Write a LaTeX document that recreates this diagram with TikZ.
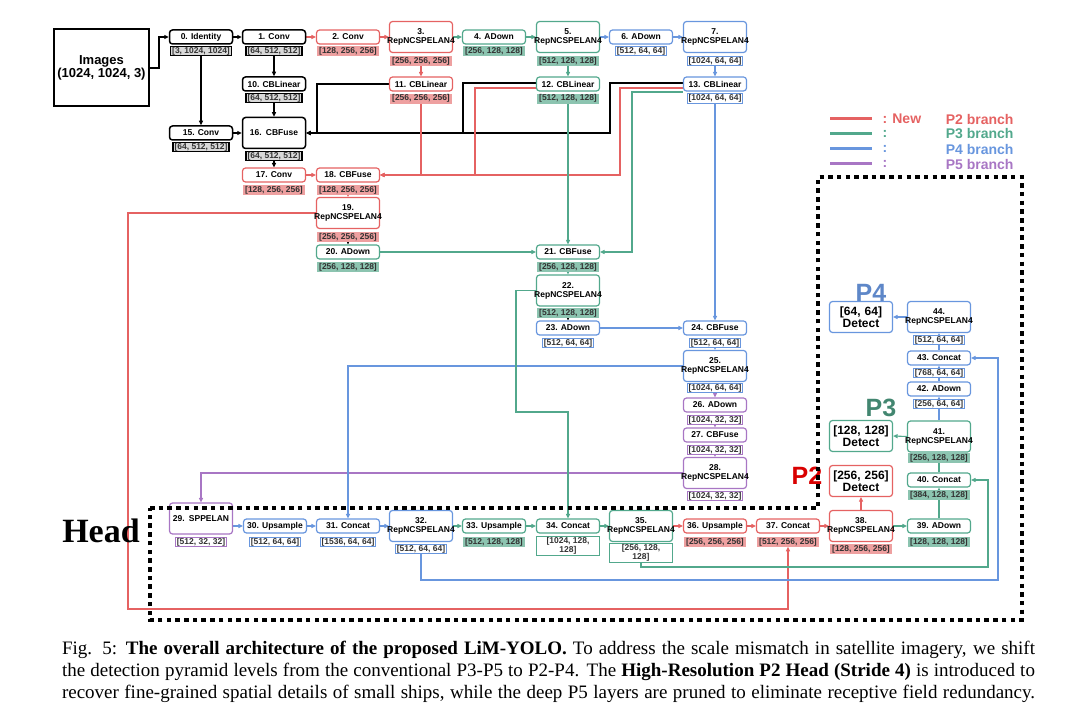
\documentclass[tikz,border=0pt]{standalone}
\usepackage{fontspec}
\setmainfont{Liberation Serif}
\setsansfont{Liberation Sans}
\usetikzlibrary{arrows.meta,backgrounds,calc}

\definecolor{cNew}{RGB}{229,98,98}
\definecolor{cNewL}{RGB}{238,160,160}
\definecolor{cGrn}{RGB}{82,168,140}
\definecolor{cGrnL}{RGB}{140,196,176}
\definecolor{cBlu}{RGB}{104,150,222}
\definecolor{cPur}{RGB}{168,118,196}

\newcommand{\modfont}{\fontsize{8.5}{9}\selectfont\sffamily\bfseries}
\newcommand{\detfont}{\fontsize{12}{11.5}\selectfont\sffamily\bfseries}
\newcommand{\legfont}{\fontsize{14}{14}\selectfont\sffamily\bfseries}
\newcommand{\pfont}{\fontsize{25}{25}\selectfont\sffamily\bfseries}
\newcommand{\capfont}{\fontsize{19}{22}\selectfont\rmfamily}
\newcommand{\repn}{\makebox[0pt]{RepNCSPELAN4}}

\begin{document}
\begin{tikzpicture}
  [
    x=1pt, y=-1pt,
    >={Triangle[length=4.5pt,width=4pt]},
    mod/.style={rectangle,rounded corners=3pt,fill=white,minimum width=63pt,minimum height=14pt,inner sep=1pt,font=\modfont},
    tall/.style={minimum height=31pt,text width=61pt,align=center},
    det/.style={mod,minimum height=31pt,text width=61pt,align=center,font=\detfont},
    boxk/.style={mod,draw=black,line width=1.5pt},
    boxr/.style={mod,draw=cNew,line width=1.2pt},
    boxg/.style={mod,draw=cGrn,line width=1.2pt},
    boxb/.style={mod,draw=cBlu,line width=1.2pt},
    boxp/.style={mod,draw=cPur,line width=1.2pt},
    dims/.style={rectangle,inner xsep=1.5pt,inner ysep=0.6pt,font=\modfont,text=black!80,align=center},
    dimk/.style={dims,draw=black,line width=1.3pt,fill=gray!30},
    dimr/.style={dims,draw=cNewL,fill=cNewL},
    dimg/.style={dims,draw=cGrnL,fill=cGrnL},
    dimb/.style={dims,draw=cBlu,line width=1pt,fill=white},
    dimp/.style={dims,draw=cPur,line width=1pt,fill=white},
    wk/.style={draw=black,line width=1.5pt,->},
    wt/.style={draw=black,line width=0.6pt,->},
    wr/.style={draw=cNew,line width=1.1pt,->},
    wg/.style={draw=cGrn,line width=1.1pt,->},
    wb/.style={draw=cBlu,line width=1.1pt,->},
    wp/.style={draw=cPur,line width=1.1pt,->},
  ]
  \useasboundingbox (0,0) rectangle (1080,719);

  % input
  \node (img) at (101.5,68) [draw,line width=2pt,minimum width=93pt,minimum height=77pt,align=center,font=\fontsize{13}{12.5}\selectfont\sffamily\bfseries] {Images\\(1024, 1024, 3)};

  % backbone
  \node (n0) at (201,37) [boxk] {0. Identity};
  \node (d0) at (201,51) [dimk] {[3, 1024, 1024]};
  \node (n1) at (274,37) [boxk] {1. Conv};
  \node (d1) at (274,51) [dimk] {[64, 512, 512]};
  \node (n2) at (348,37) [boxr] {2. Conv};
  \node (d2) at (348,51) [dimr] {[128, 256, 256]};
  \node (n3) at (421,37) [boxr,tall] {3.\\\repn};
  \node (d3) at (421,61) [dimr] {[256, 256, 256]};
  \node (n4) at (494,37) [boxg] {4. ADown};
  \node (d4) at (494,51) [dimg] {[256, 128, 128]};
  \node (n5) at (568,37) [boxg,tall] {5.\\\repn};
  \node (d5) at (568,61) [dimg] {[512, 128, 128]};
  \node (n6) at (641,37) [boxb] {6. ADown};
  \node (d6) at (641,51) [dimb] {[512, 64, 64]};
  \node (n7) at (715,37) [boxb,tall] {7.\\\repn};
  \node (d7) at (715,61) [dimb] {[1024, 64, 64]};

  \node (n10) at (274,84) [boxk] {10. CBLinear};
  \node (d10) at (274,98) [dimk] {[64, 512, 512]};
  \node (n11) at (421,84) [boxr] {11. CBLinear};
  \node (d11) at (421,98.5) [dimr] {[256, 256, 256]};
  \node (n12) at (568,84) [boxg] {12. CBLinear};
  \node (d12) at (568,98.5) [dimg] {[512, 128, 128]};
  \node (n13) at (715,84) [boxb] {13. CBLinear};
  \node (d13) at (715,98.5) [dimb] {[1024, 64, 64]};

  \node (n15) at (201,133) [boxk] {15. Conv};
  \node (d15) at (201,147) [dimk] {[64, 512, 512]};
  \node (n16) at (274,133) [boxk,tall] {16. CBFuse};
  \node (d16) at (274,156) [dimk] {[64, 512, 512]};
  \node (n17) at (274,175) [boxr] {17. Conv};
  \node (d17) at (274,190) [dimr] {[128, 256, 256]};
  \node (n18) at (348,175) [boxr] {18. CBFuse};
  \node (d18) at (348,190) [dimr] {[128, 256, 256]};
  \node (n19) at (348,213) [boxr,tall] {19.\\\repn};
  \node (d19) at (348,237) [dimr] {[256, 256, 256]};
  \node (n20) at (348,252) [boxg] {20. ADown};
  \node (d20) at (348,267) [dimg] {[256, 128, 128]};
  \node (n21) at (568,252) [boxg] {21. CBFuse};
  \node (d21) at (568,267) [dimg] {[256, 128, 128]};
  \node (n22) at (568,290.5) [boxg,tall] {22.\\\repn};
  \node (d22) at (568,313) [dimg] {[512, 128, 128]};
  \node (n23) at (568,328) [boxb] {23. ADown};
  \node (d23) at (568,343) [dimb] {[512, 64, 64]};
  \node (n24) at (715,328) [boxb] {24. CBFuse};
  \node (d24) at (715,343) [dimb] {[512, 64, 64]};
  \node (n25) at (715,366) [boxb,tall] {25.\\\repn};
  \node (d25) at (715,388) [dimb] {[1024, 64, 64]};
  \node (n26) at (715,405) [boxp] {26. ADown};
  \node (d26) at (715,420) [dimp] {[1024, 32, 32]};
  \node (n27) at (715,435) [boxp] {27. CBFuse};
  \node (d27) at (715,450) [dimp] {[1024, 32, 32]};
  \node (n28) at (715,473) [boxp,tall] {28.\\\repn};
  \node (d28) at (715,496) [dimp] {[1024, 32, 32]};

  % head
  \node (n29) at (201,518.5) [boxp,tall] {29. SPPELAN};
  \node (d29) at (201,542) [dimp] {[512, 32, 32]};
  \node (n30) at (275,526) [boxb] {30. Upsample};
  \node (d30) at (275,542) [dimb] {[512, 64, 64]};
  \node (n31) at (348,526) [boxb] {31. Concat};
  \node (d31) at (348,542) [dimb] {[1536, 64, 64]};
  \node (n32) at (421,526) [boxb,tall] {32.\\\repn};
  \node (d32) at (421,549) [dimb] {[512, 64, 64]};
  \node (n33) at (494,526) [boxg] {33. Upsample};
  \node (d33) at (494,542) [dimg] {[512, 128, 128]};
  \node (n34) at (568,526) [boxg] {34. Concat};
  \node (d34) at (568,546) [dims,draw=cGrn,line width=1pt,fill=white,minimum width=63pt] {[1024, 128,\\128]};
  \node (n35) at (641,526) [boxg,tall] {35.\\\repn};
  \node (d35) at (641,553) [dims,draw=cGrn,line width=1pt,fill=white,minimum width=63pt] {[256, 128,\\128]};
  \node (n36) at (715,526) [boxr] {36. Upsample};
  \node (d36) at (715,542) [dimr] {[256, 256, 256]};
  \node (n37) at (788,526) [boxr] {37. Concat};
  \node (d37) at (788,542) [dimr] {[512, 256, 256]};
  \node (n38) at (861,526) [boxr,tall] {38.\\\repn};
  \node (d38) at (861,549) [dimr] {[128, 256, 256]};
  \node (n39) at (939,526) [boxg] {39. ADown};
  \node (d39) at (939,542) [dimg] {[128, 128, 128]};
  \node (n40) at (939,480) [boxg] {40. Concat};
  \node (d40) at (939,495) [dimg] {[384, 128, 128]};
  \node (n41) at (939,436.5) [boxg,tall] {41.\\\repn};
  \node (d41) at (939,458) [dimg] {[256, 128, 128]};
  \node (n42) at (939,389) [boxb] {42. ADown};
  \node (d42) at (939,404) [dimb] {[256, 64, 64]};
  \node (n43) at (939,358) [boxb] {43. Concat};
  \node (d43) at (939,373) [dimb] {[768, 64, 64]};
  \node (n44) at (939,317) [boxb,tall] {44.\\\repn};
  \node (d44) at (939,340) [dimb] {[512, 64, 64]};

  % detect heads
  \node (det4) at (861,317) [det,draw=cBlu,line width=1.2pt] {[64, 64]\\Detect};
  \node (det3) at (861,436) [det,draw=cGrn,line width=1.2pt] {[128, 128]\\Detect};
  \node (det2) at (861,481) [det,draw=cNew,line width=1.2pt] {[256, 256]\\Detect};
  \node (p4) at (871,293) [inner sep=0pt,font=\pfont,text=cBlu!90!black] {P4};
  \node (p3) at (881,408) [inner sep=0pt,font=\pfont,text=cGrn!80!black] {P3};
  \node (p2) at (807,476) [inner sep=0pt,font=\pfont,text=red!85!black] {P2};

  \begin{pgfonlayer}{background}
    \draw[wk] (img.east) -- ++(9,0) |- (n0.west);
    \draw[wk] (n0.east) -- (n1.west);
    \draw[wr] (n1.east) -- (n2.west);
    \draw[wr] (n2.east) -- (n3.west);
    \draw[wg] (n3.east) -- (n4.west);
    \draw[wg] (n4.east) -- (n5.west);
    \draw[wb] (n5.east) -- (n6.west);
    \draw[wb] (n6.east) -- (n7.west);
    \draw[wk] (d0.south) -- (n15.north);
    \draw[wk] (d1.south) -- (n10.north);
    \draw[wk] (d10.south) -- (n16.north);
    \draw[wk] (n15.east) -- (n16.west);
    \draw[wk] (d16.south) -- (n17.north);
    \draw[wr] (d3.south) -- (n11.north);
    \draw[wg] (d5.south) -- (n12.north);
    \draw[wb] (d7.south) -- (n13.north);
    % CBLinear outputs
    \draw[wk] (n11.west) -| (317,133) -- (n16.east);
    \draw[wk] ($(n12.west)+(0,-1)$) -| (463,133) -- (n16.east);
    \draw[wk] ($(n13.west)+(0,-1)$) -| (610,133) -- (n16.east);
    \draw[wr] (d11.south) |- (n18.east);
    \draw[wr] ($(n12.west)+(0,4)$) -| (475,175) -- (n18.east);
    \draw[wr] ($(n13.west)+(0,4)$) -| (620,175) -- (n18.east);
    \draw[wg] ($(n13.west)+(0,8)$) -| (632,252) -- (n21.east);
    \draw[wg] (d12.south) -- (n21.north);
    \draw[wb] (d13.south) -- (n24.north);
    \draw[wr] (n17.east) -- (n18.west);
    \draw[wr] (d18.south) -- (n19.north);
    \draw[wt] (d19.south) -- (n20.north);
    \draw[wg] (n20.east) -- (n21.west);
    \draw[wg] (d21.south) -- (n22.north);
    \draw[wt] (d22.south) -- (n23.north);
    \draw[wb] (n23.east) -- (n24.west);
    \draw[wb] (d24.south) -- (n25.north);
    \draw[wp] (d25.south) -- (n26.north);
    \draw[wp] (d26.south) -- (n27.north);
    \draw[wp] (d27.south) -- (n28.north);
    % into the head
    \draw[wp] (n28.west) -| (n29.north);
    \draw[wb] (n25.west) -| (n31.north);
    \draw[wg] (n22.west) -| (516,412) -| (n34.north);
    \draw[wr] (n19.west) -| (128,609) -| (d37.south);
    \draw[wb] (n29.east |- n30.west) -- (n30.west);
    \draw[wb] (n30.east) -- (n31.west);
    \draw[wb] (n31.east) -- (n32.west);
    \draw[wg] (n32.east) -- (n33.west);
    \draw[wg] (n33.east) -- (n34.west);
    \draw[wg] (n34.east) -- (n35.west);
    \draw[wr] (n35.east) -- (n36.west);
    \draw[wr] (n36.east) -- (n37.west);
    \draw[wr] (n37.east) -- (n38.west);
    \draw[wg] (n38.east) -- (n39.west);
    \draw[wr] (n38.north) -- (det2.south);
    \draw[wg] (n39.north) -- (n40.south);
    \draw[wg] (n40.north) -- (n41.south);
    \draw[wb] (n41.north) -- (n42.south);
    \draw[wb] (n42.north) -- (n43.south);
    \draw[wb] (n43.north) -- (n44.south);
    \draw[wg] (n41.west) -- (det3.east);
    \draw[wb] (n44.west) -- (det4.east);
    \draw[wg] (d35.south) |- (988,567) |- (n40.east);
    \draw[wb] (d32.south) |- (998,580) |- (n43.east);
  \end{pgfonlayer}

  % legend
  \draw[cNew,line width=3pt] (830,119) -- (872,119);
  \draw[cGrn,line width=3pt] (830,134) -- (872,134);
  \draw[cBlu,line width=3pt] (830,149) -- (872,149);
  \draw[cPur,line width=3pt] (830,164) -- (872,164);
  \node (lg1) at (879,119) [anchor=west,text=cNew,font=\legfont] {: New};
  \node (lg2) at (879,134) [anchor=west,text=cGrn,font=\legfont] {:};
  \node (lg3) at (879,149) [anchor=west,text=cBlu,font=\legfont] {:};
  \node (lg4) at (879,164) [anchor=west,text=cPur,font=\legfont] {:};
  \node (lb1) at (1017,119) [anchor=east,text=cNew,font=\legfont] {P2 branch};
  \node (lb2) at (1017,134) [anchor=east,text=cGrn,font=\legfont] {P3 branch};
  \node (lb3) at (1017,149) [anchor=east,text=cBlu,font=\legfont] {P4 branch};
  \node (lb4) at (1017,164) [anchor=east,text=cPur,font=\legfont] {P5 branch};

  % head frame
  \draw[line width=4.5pt,dash pattern=on 4.5pt off 4.2pt] (150,508) -- (818,508) -- (818,177) -- (1022,177) -- (1022,620) -- (150,620) -- cycle;
  \node (head) at (101,531) [font=\fontsize{34}{34}\selectfont\rmfamily\bfseries] {Head};

  % caption
  \node (cap1) at (548.5,650) [inner sep=0pt,font=\capfont] {\makebox[973pt][s]{Fig. 5: \textbf{The overall architecture of the proposed LiM-YOLO.} To address the scale mismatch in satellite imagery, we shift}};
  \node (cap2) at (548.5,672) [inner sep=0pt,font=\capfont] {\makebox[973pt][s]{the detection pyramid levels from the conventional P3-P5 to P2-P4. The \textbf{High-Resolution P2 Head (Stride 4)} is introduced to}};
  \node (cap3) at (548.5,694) [inner sep=0pt,font=\capfont] {\makebox[973pt][s]{recover fine-grained spatial details of small ships, while the deep P5 layers are pruned to eliminate receptive field redundancy.}};
\end{tikzpicture}
\end{document}
